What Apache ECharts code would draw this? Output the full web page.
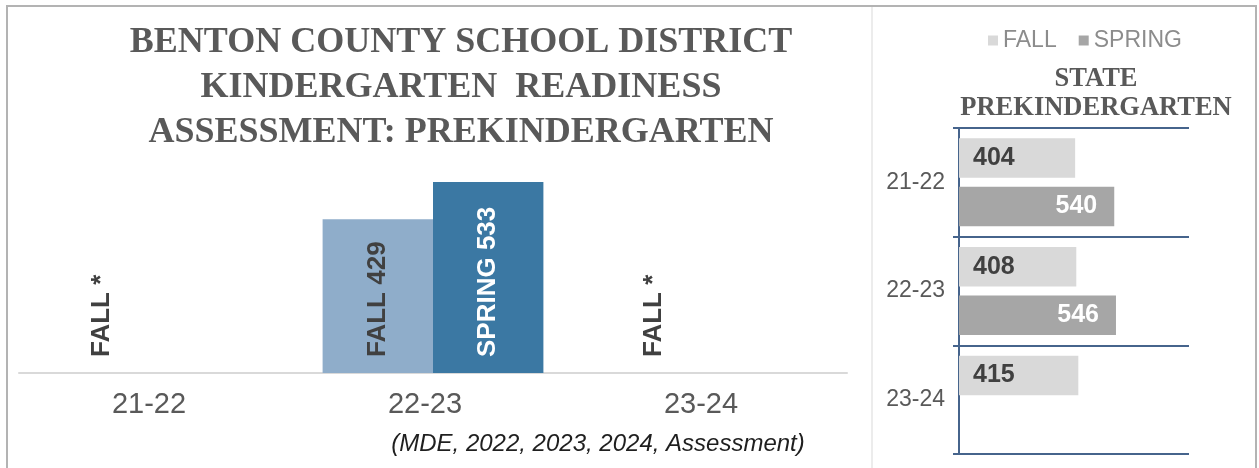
<!DOCTYPE html>
<html>
<head>
<meta charset="utf-8">
<script src="https://cdn.jsdelivr.net/npm/echarts@6/dist/echarts.min.js"></script>
<style>
html,body{margin:0;padding:0;background:#fff;}
#chart{width:1259px;height:468px;}
</style>
</head>
<body>
<div id="chart"></div>
<script>
// ---- data ----
const categories = ['21-22', '22-23', '23-24'];
const districtFall = [null, 429, null];     // null = suppressed ("*")
const districtSpring = [null, 533, null];
const stateFall = [404, 408, 415];
const stateSpring = [540, 546, null];
const legendNames = ['FALL', 'SPRING'];
const titleText = 'BENTON COUNTY SCHOOL DISTRICT\nKINDERGARTEN  READINESS\nASSESSMENT: PREKINDERGARTEN';
const stateTitle = 'STATE\nPREKINDERGARTEN';
const sourceText = '(MDE, 2022, 2023, 2024, Assessment)';

const SANS = '"Liberation Sans", Arial, sans-serif';
const SERIF = '"Liberation Serif", "Times New Roman", serif';
const AXIS_BLUE = '#46648c';

const labelBase = {
  show: true,
  position: 'insideBottom',
  rotate: 90,
  align: 'left',
  verticalAlign: 'middle',
  distance: 16,
  fontFamily: SANS,
  fontWeight: 'bold',
  fontSize: 26
};

function districtData(arr, prefix) {
  return arr.map(v => v == null
    ? { value: 0, label: { formatter: prefix + ' *' } }
    : { value: v, label: { formatter: prefix + ' ' + v } });
}

const chart = echarts.init(document.getElementById('chart'), null, { renderer: 'canvas' });

chart.setOption({
  animation: false,
  backgroundColor: '#fff',
  graphic: [
    { type: 'rect', shape: { x: 7, y: 6, width: 1249, height: 480 },
      style: { fill: 'none', stroke: '#b3b3b3', lineWidth: 2 }, silent: true },
    { type: 'line', shape: { x1: 872, y1: 7, x2: 872, y2: 468 },
      style: { stroke: '#ececec', lineWidth: 2 }, silent: true },
    { type: 'text', x: 461, y: 20,
      style: { text: titleText, font: 'bold 36px ' + SERIF, fill: '#595959',
               align: 'center', verticalAlign: 'top', lineHeight: 45 } },
    { type: 'text', x: 1096, y: 65,
      style: { text: stateTitle, font: 'bold 26.5px ' + SERIF, fill: '#595959',
               align: 'center', verticalAlign: 'top', lineHeight: 29 } },
    { type: 'text', x: 598, y: 432,
      style: { text: sourceText, font: 'italic 24px ' + SANS, fill: '#1f1f1f',
               align: 'center', verticalAlign: 'top' } }
  ],
  legend: {
    data: legendNames,
    left: 983, top: 24,
    icon: 'rect', itemWidth: 10, itemHeight: 10, itemGap: 22,
    textStyle: { fontFamily: SANS, fontSize: 23, color: '#8c8c8c' }
  },
  grid: [
    { left: 19, right: 412, top: 158, bottom: 95 },
    { left: 959, right: 70, top: 128, bottom: 14 }
  ],
  xAxis: [
    { type: 'category', gridIndex: 0, data: categories,
      axisLine: { lineStyle: { color: '#d9d9d9', width: 2 } },
      axisTick: { show: false },
      axisLabel: { fontFamily: SANS, fontSize: 29, color: '#595959', margin: 17,
                   padding: [0, 16, 0, 0] } },
    { type: 'value', gridIndex: 1, min: 0, max: 800, show: false }
  ],
  yAxis: [
    { type: 'value', gridIndex: 0, min: 0, max: 600, show: false },
    { type: 'category', gridIndex: 1, data: categories, inverse: true,
      axisLine: { lineStyle: { color: AXIS_BLUE, width: 2 } },
      axisTick: { show: true, length: 6, lineStyle: { color: AXIS_BLUE, width: 2 } },
      splitLine: { show: true, lineStyle: { color: AXIS_BLUE, width: 2 } },
      axisLabel: { fontFamily: SANS, fontSize: 23, color: '#595959', margin: 14 } }
  ],
  series: [
    { name: 'District FALL', type: 'bar', xAxisIndex: 0, yAxisIndex: 0,
      data: districtData(districtFall, 'FALL'),
      barGap: '0%', barCategoryGap: '20%',
      itemStyle: { color: '#8fadca' },
      label: Object.assign({}, labelBase, { color: '#404040' }) },
    { name: 'District SPRING', type: 'bar', xAxisIndex: 0, yAxisIndex: 0,
      data: districtData(districtSpring, 'SPRING').map((d, i) => districtSpring[i] == null ? null : d),
      barGap: '0%', barCategoryGap: '20%',
      itemStyle: { color: '#3b78a3' },
      label: Object.assign({}, labelBase, { color: '#ffffff' }) },
    { name: 'FALL', type: 'bar', xAxisIndex: 1, yAxisIndex: 1,
      data: stateFall,
      barGap: '23%', barCategoryGap: '19%',
      itemStyle: { color: '#d9d9d9' },
      label: { show: true, position: 'insideLeft', distance: 14, color: '#404040',
               fontFamily: SANS, fontWeight: 'bold', fontSize: 25 } },
    { name: 'SPRING', type: 'bar', xAxisIndex: 1, yAxisIndex: 1,
      data: stateSpring,
      barGap: '23%', barCategoryGap: '19%',
      itemStyle: { color: '#a6a6a6' },
      label: { show: true, position: 'insideRight', distance: 17, color: '#ffffff',
               fontFamily: SANS, fontWeight: 'bold', fontSize: 25 } }
  ]
});
</script>
</body>
</html>
